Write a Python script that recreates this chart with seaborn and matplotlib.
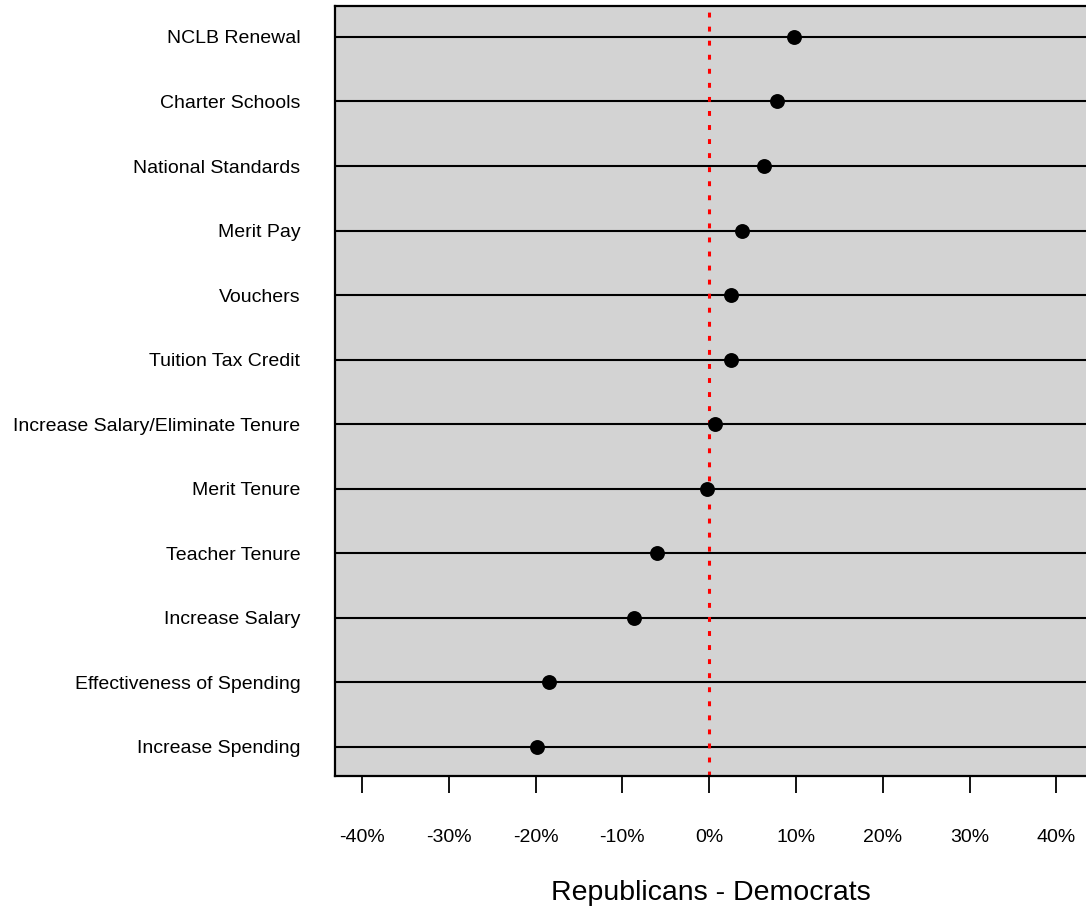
import numpy as np
import matplotlib
matplotlib.use("Agg")
import matplotlib.pyplot as plt
import seaborn as sns

# policy items, top to bottom as shown in the chart
items = ["NCLB Renewal", "Charter Schools", "National Standards", "Merit Pay",
         "Vouchers", "Tuition Tax Credit", "Increase Salary/Eliminate Tenure",
         "Merit Tenure", "Teacher Tenure", "Increase Salary",
         "Effectiveness of Spending", "Increase Spending"]
# Republicans minus Democrats, in percent
diffs = [9.8, 7.8, 6.3, 3.8, 2.5, 2.5, 0.7, -0.2, -6.0, -8.7, -18.5, -19.8]
xticks = [-40, -30, -20, -10, 0, 10, 20, 30, 40]

sns.set_style("white")
plt.rcParams["font.family"] = ["Liberation Sans", "DejaVu Sans"]
plt.rcParams["text.color"] = "black"
plt.rcParams["xtick.color"] = "black"
plt.rcParams["ytick.color"] = "black"
plt.rcParams["axes.labelcolor"] = "black"

fig = plt.figure(figsize=(10.86, 9.15), dpi=100)
ax = fig.add_axes([0.3085, 0.152, 0.6915, 0.8415])
ax.set_facecolor("#d3d3d3")

ypos = np.arange(len(items))[::-1] + 1
for y in ypos:
    ax.axhline(y, color="black", lw=1.5, zorder=1)
ax.axvline(0, color="red", lw=2.2, ls=(0, (1.6, 3.0)), zorder=2)
sns.scatterplot(x=diffs, y=ypos, ax=ax, color="black", s=115,
                edgecolor="black", linewidth=0, zorder=3)

ax.set_xlim(-43.1, 43.4)
ax.set_ylim(0.55, 12.48)
ax.set_yticks(ypos)
ax.set_yticklabels(items, fontsize=14)
ax.set_xticks(xticks)
ax.set_xticklabels([f"{t}%" for t in xticks], fontsize=14)
ax.tick_params(axis="y", length=0, pad=25)
ax.tick_params(axis="x", length=12, width=1.3, color="black", pad=26,
               bottom=True, direction="out")
ax.set_xlabel("Republicans - Democrats", fontsize=20.5, labelpad=25)
ax.grid(False)
for s in ax.spines.values():
    s.set_color("black")
    s.set_linewidth(1.6)
ax.spines["right"].set_visible(False)

fig.savefig("out.png", dpi=100)
